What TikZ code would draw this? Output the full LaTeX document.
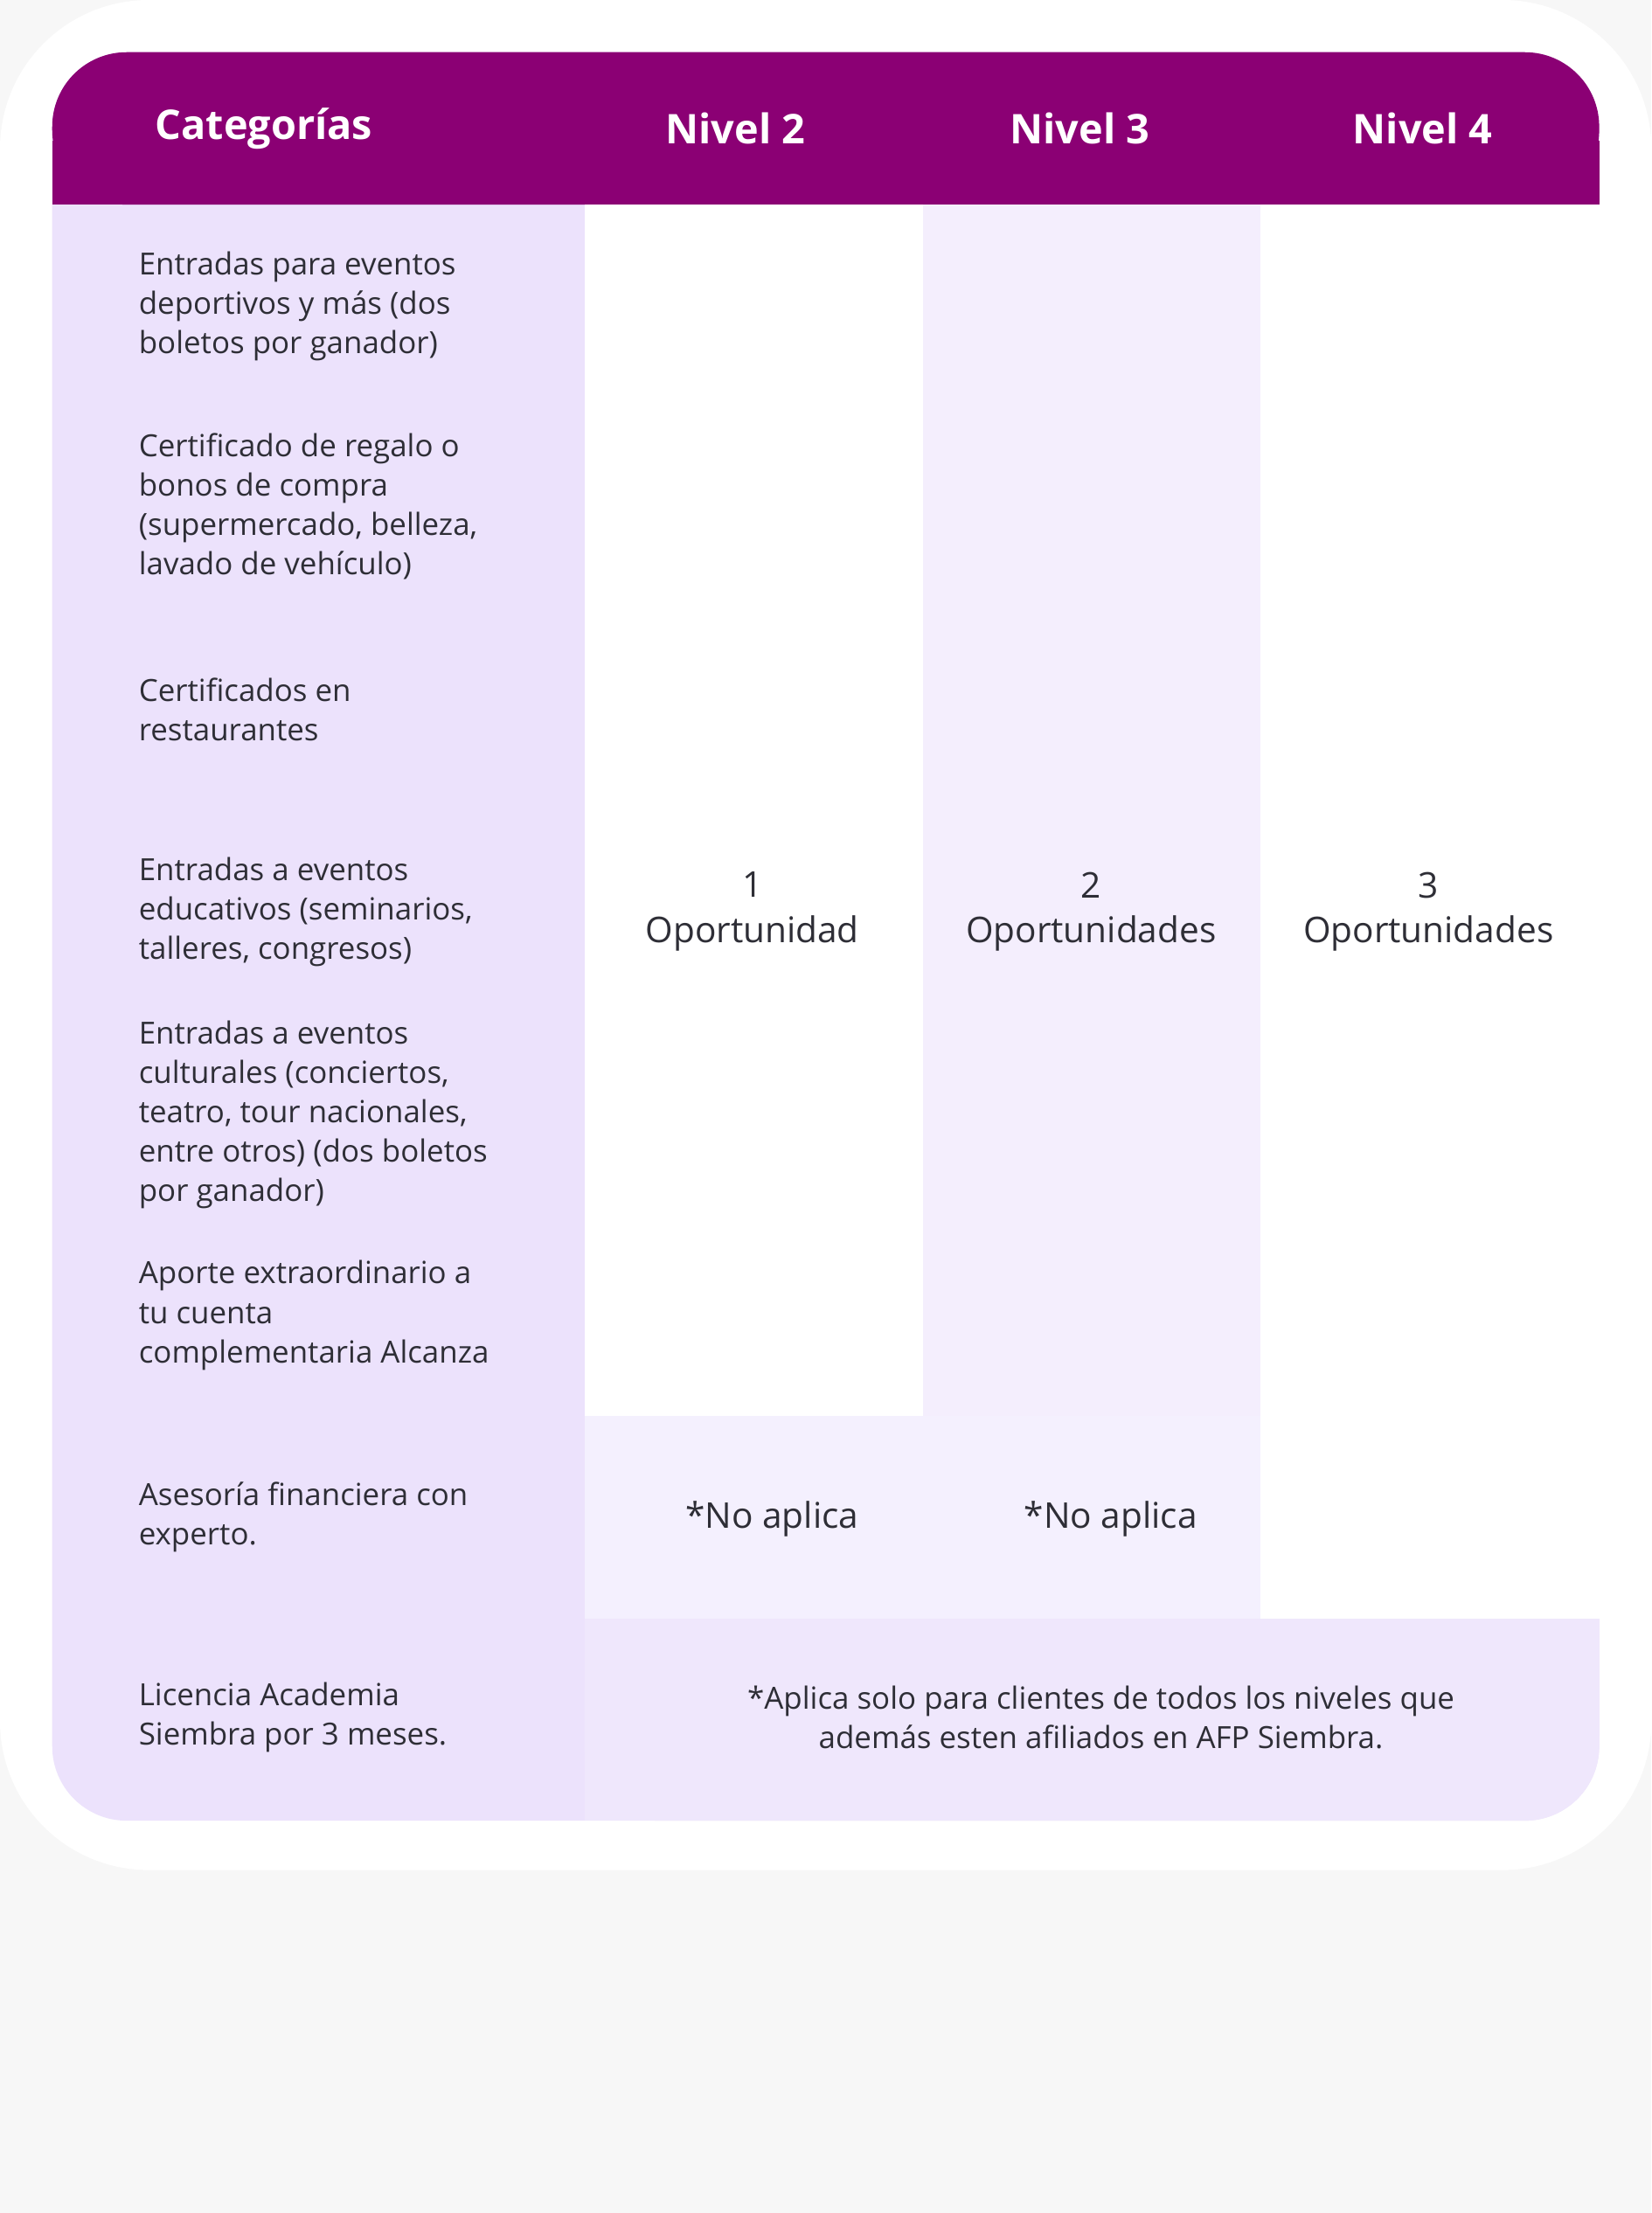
\documentclass[tikz,border=0pt]{standalone}
\usepackage{fontspec}
\setmainfont{Open Sans}
\definecolor{headpurple}{HTML}{8B0074}
\definecolor{catlav}{HTML}{ECE2FC}
\definecolor{lvlthree}{HTML}{F4EEFD}
\definecolor{noapl}{HTML}{F4F0FE}
\definecolor{footrow}{HTML}{EFE7FC}
\definecolor{txtgray}{HTML}{2E2E36}
\tikzset{
  headtxt/.style={text=white, font=\fontsize{16.5}{20}\selectfont\bfseries},
  cattxt/.style={anchor=west, align=left, text=txtgray, inner sep=0pt, font=\fontsize{12.3}{15.9}\selectfont},
  cnttxt/.style={align=center, text=txtgray, inner sep=0pt, font=\fontsize{14.3}{18.2}\selectfont},
  foottxt/.style={align=center, text=txtgray, inner sep=0pt, font=\fontsize{12.3}{15.9}\selectfont}
}
\begin{document}
\begin{tikzpicture}[x=0.02cm,y=-0.02cm]
\useasboundingbox (0,0) rectangle (1170,1568);
\fill[white!97!black] (0,0) rectangle (1170,1568);
% shadow and card
\foreach \i in {1,...,8}
  \fill[black!2, opacity=0.25, rounded corners=60] (10+5*\i,10) rectangle (1160-5*\i,1330+4*\i);
\fill[white, rounded corners=60] (0,0) rectangle (1170,1325);
% table background
\fill[catlav, rounded corners=30] (37,37) rectangle (1133,1290);
\fill[headpurple, rounded corners=30] (37,37) rectangle (1133,145);
\fill[headpurple] (37,100) rectangle (1133,145);
\fill[white] (414,145) rectangle (654,1003);
\fill[lvlthree] (654,145) rectangle (893,1003);
\fill[white] (893,145) rectangle (1133,1147);
\fill[noapl] (414,1003) rectangle (893,1147);
\fill[footrow, rounded corners=30] (414,1147) rectangle (1133,1290);
\fill[footrow] (414,1147) rectangle (1133,1230);
\fill[footrow] (414,1147) rectangle (1000,1290);
% header
\node[headtxt] (hcat) at (187,91) {Categorías};
\node[headtxt] (hdos) at (521,91) {Nivel 2};
\node[headtxt] (htres) at (765,91) {Nivel 3};
\node[headtxt] (hcuatro) at (1008,91) {Nivel 4};
% categories
\node[cattxt] (ceventos) at (98,217) {Entradas para eventos\\deportivos y más (dos\\boletos por ganador)};
\node[cattxt] (cregalo) at (98,359) {Certificado de regalo o\\bonos de compra\\(supermercado, belleza,\\lavado de vehículo)};
\node[cattxt] (crest) at (98,503) {Certificados en\\restaurantes};
\node[cattxt] (cedu) at (98,646) {Entradas a eventos\\educativos (seminarios,\\talleres, congresos)};
\node[cattxt] (ccult) at (98,790) {Entradas a eventos\\culturales (conciertos,\\teatro, tour nacionales,\\entre otros) (dos boletos\\por ganador)};
\node[cattxt] (caporte) at (98,932) {Aporte extraordinario a\\tu cuenta\\complementaria Alcanza};
\node[cattxt] (cases) at (98,1075) {Asesoría financiera con\\experto.};
\node[cattxt] (clic) at (98,1217) {Licencia Academia\\Siembra por 3 meses.};
% values
\node[cnttxt] (vdos) at (533,646) {1\\Oportunidad};
\node[cnttxt] (vtres) at (773,646) {2\\Oportunidades};
\node[cnttxt] (vcuatro) at (1012,646) {3\\Oportunidades};
\node[cnttxt] (nados) at (547,1076) {*No aplica};
\node[cnttxt] (natres) at (787,1076) {*No aplica};
\node[foottxt] (nota) at (780,1217) {*Aplica solo para clientes de todos los niveles que\\además esten afiliados en AFP Siembra.};
\end{tikzpicture}
\end{document}
